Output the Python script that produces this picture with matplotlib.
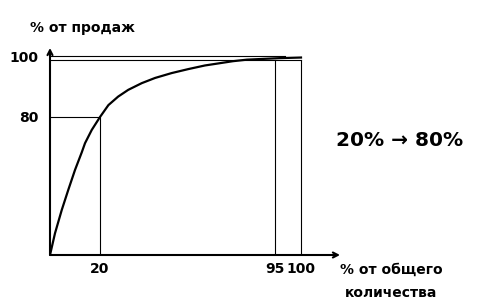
import numpy as np
import matplotlib
matplotlib.use("Agg")
import matplotlib.pyplot as plt

# кривая Парето (схема)
share_qty = [0, 2, 4.7, 7.3, 10, 12.7, 14, 16.7, 20, 23.6, 27.8, 32.1, 37.9, 43.6,
             50.7, 57.8, 65, 77, 83, 95.9, 100]
share_sales = [0, 12.6, 26.1, 37.7, 49.3, 59.5, 64.8, 72.5, 80, 83.9, 86.7, 88.9, 91.1,
               92.8, 94.4, 95.7, 96.9, 98.3, 98.8, 99.3, 99.5]

x_ticks = [20, 95, 100]
y_ticks = [80, 100]
top_level = 100
low_level = 98.7

# схема не в масштабе: кусочно-линейные оси
xs_data, xs_px = [0, 20, 95, 100, 115], [0, 50, 225, 251, 290]
ys_data, ys_px = [0, 80, 100, 105], [0, 138, 199, 207]


def fx(v):
    return np.interp(v, xs_data, xs_px)


def fx_inv(v):
    return np.interp(v, xs_px, xs_data)


def fy(v):
    return np.interp(v, ys_data, ys_px)


def fy_inv(v):
    return np.interp(v, ys_px, ys_data)


W, H = 478, 305
fig = plt.figure(figsize=(W / 100, H / 100), dpi=100)
ax = fig.add_axes([50 / W, 50 / H, 290 / W, 207 / H])
ax.set_xscale("function", functions=(fx, fx_inv))
ax.set_yscale("function", functions=(fy, fy_inv))
ax.set_xlim(0, 115)
ax.set_ylim(0, 105)
for s in ax.spines.values():
    s.set_visible(False)

ax.plot(share_qty, share_sales, color="black", lw=1.6)

thin = dict(color="black", lw=0.8)
ax.plot([0, 20, 20], [80, 80, 0], **thin)
ax.plot([0, 97], [top_level, top_level], **thin)
ax.plot([0, 100], [low_level, low_level], **thin)
ax.plot([95, 95], [0, low_level], **thin)
ax.plot([100, 100], [0, low_level], **thin)

# оси со стрелками
arr = dict(arrowstyle="->,head_length=0.35,head_width=0.18", lw=1.5,
           color="black", shrinkA=0, shrinkB=0)
ax.annotate("", xy=(1, 0), xytext=(0, 0), xycoords="axes fraction", arrowprops=arr)
ax.annotate("", xy=(0, 1), xytext=(0, 0), xycoords="axes fraction", arrowprops=arr)

ax.set_xticks(x_ticks)
ax.set_xticklabels([str(t) for t in x_ticks], fontsize=10, fontweight="bold")
ax.set_yticks(y_ticks)
ax.set_yticklabels([str(t) for t in y_ticks], fontsize=10, fontweight="bold")
ax.tick_params(length=0, pad=5)
ax.tick_params(axis="y", pad=8)

fig.text(30 / W, 1 - 28 / H, "% от продаж", fontsize=10, fontweight="bold",
         va="center", ha="left")
fig.text(340 / W, 1 - 270 / H, "% от общего", fontsize=10, fontweight="bold",
         va="center", ha="left")
fig.text(345 / W, 1 - 293 / H, "количества", fontsize=10, fontweight="bold",
         va="center", ha="left")
fig.text(400 / W, 1 - 140 / H, "20% \u2192 80%", fontsize=14.5, fontweight="bold",
         va="center", ha="center")

fig.savefig("out.png", dpi=100)
